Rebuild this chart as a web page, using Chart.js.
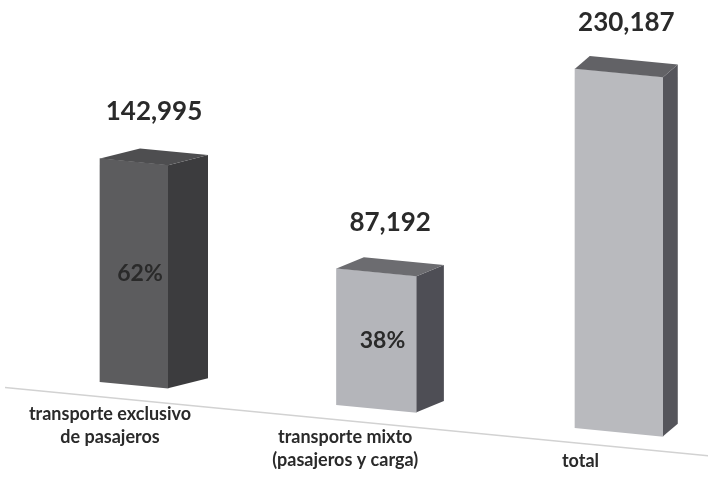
<!DOCTYPE html>
<html>
<head>
<meta charset="utf-8">
<script src="https://cdn.jsdelivr.net/npm/chart.js@4/dist/chart.umd.min.js"></script>
<style>
html,body{margin:0;padding:0;background:#ffffff;}
#wrap{width:713px;height:499px;}
</style>
</head>
<body>
<div id="wrap"><canvas id="c" width="713" height="499"></canvas></div>
<script>
const categories = [['transporte exclusivo', 'de pasajeros'], ['transporte mixto', '(pasajeros y carga)'], ['total']];
const values = [142995, 87192, 230187];
const valueLabels = ['142,995', '87,192', '230,187'];
const percentLabels = ['62%', '38%', ''];

const frontColors = ['#5c5c5e', '#b4b5ba', '#b9babe'];
const sideColors = ['#3c3c3e', '#4e4e55', '#55555b'];
const topColors = ['#4e4e50', '#6c6c70', '#626266'];
const barWidths = [68, 80, 88];

const SKEW = 0.097;
const DEPTH_Y = 14;
function depthX(x, left) { return Math.max(12, 40 - 0.052 * (x - left)); }

const threeD = {
  id: 'threeD',
  beforeDatasetsDraw(chart) {
    const ctx = chart.ctx, a = chart.chartArea;
    ctx.save();
    ctx.transform(1, SKEW, 0, 1, 0, -SKEW * a.right);
    ctx.strokeStyle = '#d2d2d2';
    ctx.lineWidth = 1.5;
    ctx.beginPath();
    ctx.moveTo(5, a.bottom + 15);
    ctx.lineTo(708, a.bottom + 15);
    ctx.stroke();
  },
  afterDatasetsDraw(chart) {
    const ctx = chart.ctx, a = chart.chartArea;
    const bars = [];
    chart.data.datasets.forEach((ds, i) => {
      const el = chart.getDatasetMeta(i).data[i];
      if (el) bars.push({ i, p: el.getProps(['x', 'y', 'base', 'width'], true) });
    });
    bars.forEach(({ i, p }) => {
      const l = p.x - p.width / 2, r = p.x + p.width / 2;
      const dx = depthX(p.x, a.left), dy = DEPTH_Y;
      ctx.fillStyle = sideColors[i];
      ctx.beginPath();
      ctx.moveTo(r, p.y);
      ctx.lineTo(r + dx, p.y - dy);
      ctx.lineTo(r + dx, p.base - dy);
      ctx.lineTo(r, p.base);
      ctx.closePath();
      ctx.fill();
      ctx.fillStyle = topColors[i];
      ctx.beginPath();
      ctx.moveTo(l, p.y);
      ctx.lineTo(l + dx, p.y - dy);
      ctx.lineTo(r + dx, p.y - dy);
      ctx.lineTo(r, p.y);
      ctx.closePath();
      ctx.fill();
    });
    ctx.restore();

    const sk = (x, y) => y + SKEW * (x - a.right);
    ctx.save();
    ctx.textAlign = 'center';
    ctx.textBaseline = 'middle';
    ctx.fillStyle = '#2a2a2a';
    bars.forEach(({ i, p }) => {
      const dx = depthX(p.x, a.left);
      ctx.font = 'bold 26px Lato';
      ctx.fillText(valueLabels[i], p.x + dx / 2, sk(p.x, p.y) - DEPTH_Y - 36);
      if (percentLabels[i]) {
        ctx.font = 'bold 23px Lato';
        ctx.fillText(percentLabels[i], p.x + 6, sk(p.x, (p.y + p.base) / 2));
      }
      ctx.font = 'bold 18px Lato';
      const lx = p.x - 24 - 0.03 * (p.x - a.left);
      const ly = sk(p.x, p.base) + 29;
      categories[i].forEach((line, j) => ctx.fillText(line, lx, ly + j * 23));
    });
    ctx.restore();
  }
};

const datasets = values.map((v, i) => ({
  data: values.map((_, j) => (j === i ? v : null)),
  backgroundColor: frontColors[i],
  borderWidth: 0,
  barThickness: barWidths[i],
  grouped: false,
  clip: false
}));

new Chart(document.getElementById('c'), {
  type: 'bar',
  data: { labels: categories, datasets },
  options: {
    responsive: false,
    animation: false,
    layout: { padding: { left: 134, right: 94, top: 42, bottom: 67 } },
    plugins: { legend: { display: false }, tooltip: { enabled: false } },
    scales: {
      x: { display: false, offset: false },
      y: { display: false, min: 0, max: 250000 }
    }
  },
  plugins: [threeD]
});
</script>
</body>
</html>
